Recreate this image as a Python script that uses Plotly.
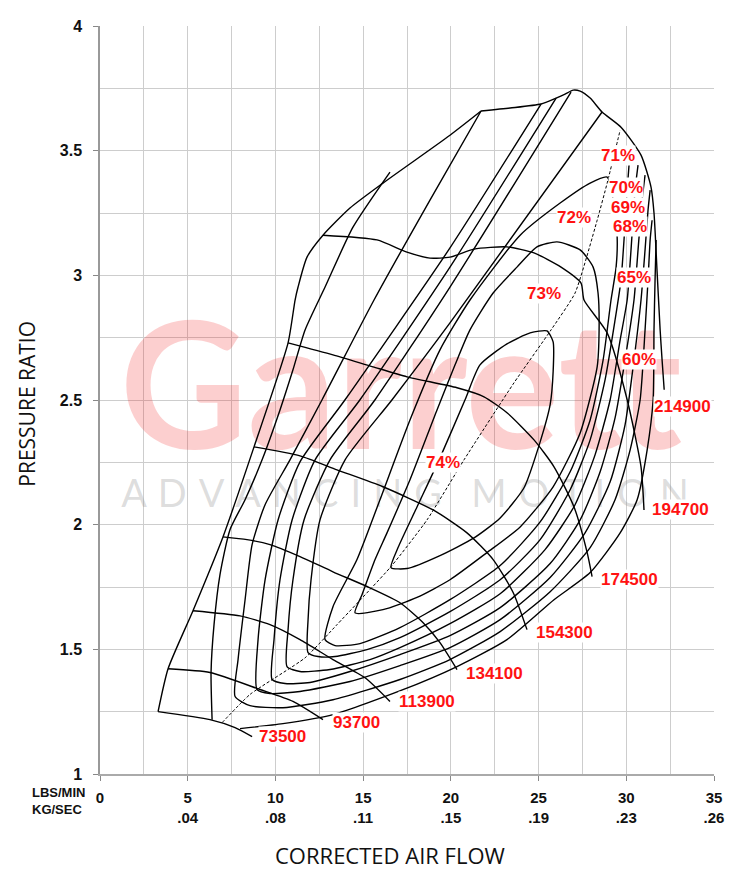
import plotly.graph_objects as go

# ---------------- data (flow in lbs/min, pressure ratio) ----------------
surge_flow = [3.31, 3.88, 5.30, 7.01, 8.78, 10.72, 11.12, 11.29, 11.80, 12.71, 14.25, 16.13, 19.95, 21.72]
surge_pr = [1.250, 1.422, 1.655, 1.951, 2.312, 2.729, 2.901, 2.953, 3.073, 3.161, 3.270, 3.370, 3.562, 3.659]

top_flow = [21.72, 23.38, 25.14, 26.00, 26.51, 26.97, 27.37, 27.94, 28.62, 29.70, 30.84, 31.41, 31.58, 31.76, 31.93, 32.04, 32.16]
top_pr = [3.659, 3.671, 3.687, 3.711, 3.727, 3.743, 3.739, 3.711, 3.655, 3.594, 3.482, 3.354, 3.250, 3.009, 2.781, 2.661, 2.541]

sp73500_flow = [3.31, 6.27, 7.70, 8.67]
sp73500_pr = [1.250, 1.218, 1.186, 1.150]
sp93700_flow = [3.88, 6.27, 9.12, 11.00, 12.71]
sp93700_pr = [1.422, 1.407, 1.339, 1.291, 1.218]
sp113900_flow = [5.30, 7.98, 9.69, 11.40, 13.28, 15.11, 16.53]
sp113900_pr = [1.655, 1.634, 1.599, 1.539, 1.459, 1.386, 1.291]
sp134100_flow = [7.01, 8.38, 9.69, 11.40, 13.28, 15.22, 17.10, 18.42, 19.38, 20.35]
sp134100_pr = [1.951, 1.940, 1.920, 1.872, 1.811, 1.752, 1.687, 1.607, 1.527, 1.419]
sp154300_flow = [8.78, 11.40, 13.51, 16.13, 18.99, 20.92, 22.41, 23.55, 24.34]
sp154300_pr = [2.312, 2.276, 2.220, 2.152, 2.059, 1.967, 1.860, 1.728, 1.579]
sp174500_flow = [10.72, 13.28, 15.56, 17.50, 20.35, 21.89, 23.20, 24.74, 25.88, 27.02, 27.77, 28.05]
sp174500_pr = [2.729, 2.681, 2.633, 2.593, 2.549, 2.513, 2.449, 2.340, 2.232, 2.071, 1.888, 1.792]
sp194700_flow = [12.71, 15.79, 17.50, 18.81, 19.95, 21.32, 23.20, 24.74, 26.28, 27.42, 27.59, 28.91, 30.05, 30.84, 31.01]
sp194700_pr = [3.161, 3.142, 3.093, 3.069, 3.073, 3.105, 3.114, 3.090, 3.033, 2.969, 2.901, 2.769, 2.501, 2.232, 2.059]

peak_flow = [6.96, 8.55, 11.69, 13.51, 16.59, 18.64, 20.75, 23.60, 25.71, 27.08, 28.34, 28.91, 29.65]
peak_pr = [1.206, 1.319, 1.466, 1.599, 1.832, 2.019, 2.260, 2.569, 2.781, 2.929, 3.221, 3.370, 3.582]

eff74_flow = [16.59, 16.99, 18.07, 19.38, 20.81, 21.66, 23.20, 24.52, 25.48, 25.83, 25.83, 25.66, 25.09, 24.17, 22.81, 21.32, 19.38, 17.50, 16.59]
eff74_pr = [1.828, 1.908, 2.071, 2.268, 2.501, 2.641, 2.725, 2.769, 2.777, 2.733, 2.613, 2.481, 2.332, 2.148, 2.027, 1.947, 1.876, 1.824, 1.828]
eff73_flow = [14.54, 14.94, 15.68, 16.36, 17.67, 19.21, 20.24, 21.09, 22.41, 23.77, 24.91, 26.05, 27.37, 28.11, 28.39, 28.45, 28.34, 27.37, 25.83, 23.95, 22.06, 19.95, 18.07, 16.13, 14.54]
eff73_pr = [1.646, 1.720, 1.860, 1.967, 2.180, 2.460, 2.641, 2.781, 2.929, 3.033, 3.114, 3.134, 3.102, 3.033, 2.929, 2.781, 2.633, 2.368, 2.152, 1.991, 1.888, 1.779, 1.708, 1.659, 1.646]
eff72_flow = [28.91, 27.94, 26.23, 23.95, 21.09, 19.38, 17.67, 15.96, 14.65, 13.28, 12.83, 13.40, 14.82, 17.10, 19.95, 22.81, 25.09, 26.80, 27.94, 28.68, 29.13, 29.42, 29.48, 29.25, 28.91]
eff72_pr = [3.394, 3.370, 3.290, 3.161, 2.901, 2.701, 2.420, 2.100, 1.860, 1.671, 1.539, 1.515, 1.523, 1.587, 1.699, 1.836, 2.011, 2.212, 2.420, 2.661, 2.901, 3.033, 3.153, 3.302, 3.394]
eff71_flow = [28.62, 19.95, 16.65, 13.97, 12.54, 12.03, 11.86, 11.86, 12.43, 13.40, 15.22, 17.10, 19.95, 22.81, 25.09, 26.80, 27.94, 28.79, 29.36, 29.70, 29.87, 30.05, 30.22]
eff71_pr = [3.655, 2.809, 2.501, 2.260, 2.019, 1.779, 1.619, 1.487, 1.471, 1.471, 1.499, 1.547, 1.651, 1.779, 1.940, 2.140, 2.340, 2.581, 2.821, 2.981, 3.142, 3.342, 3.502]
eff70_flow = [26.85, 19.95, 15.68, 13.11, 11.63, 11.00, 10.72, 10.66, 11.40, 13.11, 15.39, 17.10, 19.95, 22.81, 25.37, 27.08, 28.22, 29.08, 29.65, 30.05, 30.27, 30.50, 30.67]
eff70_pr = [3.735, 2.953, 2.501, 2.260, 2.019, 1.779, 1.579, 1.431, 1.411, 1.419, 1.459, 1.507, 1.603, 1.723, 1.900, 2.080, 2.280, 2.501, 2.741, 2.901, 3.102, 3.342, 3.442]
eff69_flow = [26.00, 19.95, 14.82, 12.26, 10.95, 10.26, 9.92, 9.81, 10.55, 11.97, 14.25, 17.10, 19.95, 22.81, 25.66, 27.37, 28.51, 29.36, 29.93, 30.44, 30.67, 30.90, 31.07]
eff69_pr = [3.711, 3.033, 2.501, 2.260, 2.019, 1.779, 1.539, 1.379, 1.363, 1.367, 1.411, 1.479, 1.555, 1.667, 1.844, 2.019, 2.212, 2.428, 2.661, 2.901, 3.102, 3.302, 3.402]
eff68_flow = [25.14, 19.95, 13.97, 11.40, 10.15, 9.41, 9.01, 8.95, 9.69, 11.40, 14.25, 17.10, 19.95, 22.81, 25.66, 27.65, 29.08, 29.93, 30.44, 30.84, 31.07, 31.24, 31.36]
eff68_pr = [3.687, 3.110, 2.501, 2.252, 2.019, 1.779, 1.539, 1.339, 1.323, 1.331, 1.371, 1.435, 1.507, 1.619, 1.788, 1.967, 2.172, 2.400, 2.661, 2.901, 3.102, 3.262, 3.342]
eff65_flow = [21.72, 18.81, 15.62, 12.66, 10.83, 9.41, 8.67, 8.27, 7.87, 7.70, 8.55, 10.43, 13.28, 17.10, 19.95, 22.81, 25.66, 27.94, 29.36, 30.22, 30.79, 31.07, 31.24, 31.36, 31.47]
eff65_pr = [3.659, 3.302, 2.901, 2.501, 2.260, 2.080, 1.920, 1.699, 1.459, 1.311, 1.274, 1.266, 1.298, 1.379, 1.459, 1.571, 1.731, 1.908, 2.100, 2.300, 2.501, 2.781, 2.981, 3.142, 3.221]
eff60a_flow = [16.53, 14.42, 12.83, 11.69, 11.00, 10.26, 9.24, 8.27, 7.41, 6.84, 6.50, 6.33, 6.39]
eff60a_pr = [3.414, 3.193, 2.953, 2.781, 2.621, 2.460, 2.260, 2.100, 1.980, 1.800, 1.599, 1.407, 1.218]
eff60b_flow = [7.98, 10.43, 13.28, 17.16, 20.35, 23.20, 25.88, 27.94, 29.65, 30.62, 31.19, 31.53, 31.58, 31.64, 31.70]
eff60b_pr = [1.182, 1.202, 1.238, 1.335, 1.431, 1.539, 1.699, 1.808, 1.967, 2.100, 2.300, 2.501, 2.781, 2.981, 3.142]

speed_labels = ["73500", "93700", "113900", "134100", "154300", "174500", "194700", "214900"]
speed_label_flow = [10.43, 14.60, 18.64, 22.46, 26.45, 30.16, 33.07, 33.18]
speed_label_pr = [1.150, 1.206, 1.291, 1.403, 1.567, 1.779, 2.059, 2.472]

eff_labels = ["74%", "73%", "72%", "71%", "70%", "69%", "68%", "65%", "60%"]
eff_label_flow = [19.56, 25.31, 27.02, 29.53, 29.99, 30.10, 30.22, 30.44, 30.73]
eff_label_pr = [2.250, 2.929, 3.230, 3.482, 3.354, 3.274, 3.197, 2.993, 2.661]

x_tick_vals = [0, 5, 10, 15, 20, 25, 30, 35]
x_tick_kg = ["", ".04", ".08", ".11", ".15", ".19", ".23", ".26"]
y_tick_vals = [1, 1.5, 2, 2.5, 3, 3.5, 4]

# ---------------- figure ----------------
fig = go.Figure()

# watermark (drawn first so the map lines sit on top)
fig.add_trace(go.Scatter(x=[17.15], y=[2.48], mode="text", text=["Garrett"],
                         textposition="middle center", cliponaxis=False, hoverinfo="skip",
                         textfont=dict(family="Lato", size=176, color="rgba(240,30,30,0.21)", weight="bold")))
sp = " \u200a"
fig.add_trace(go.Scatter(x=[17.39], y=[2.11], mode="text",
                         text=[sp.join("ADVANCING") + "   " + sp.join("MOTION")],
                         textposition="middle center", cliponaxis=False, hoverinfo="skip",
                         textfont=dict(family="Lato", size=38, color="rgba(150,150,150,0.32)")))

line_style = dict(color="black", width=1.4, shape="spline", smoothing=0.6)

curves = [
    (surge_flow, surge_pr), (top_flow, top_pr),
    (sp73500_flow, sp73500_pr), (sp93700_flow, sp93700_pr), (sp113900_flow, sp113900_pr),
    (sp134100_flow, sp134100_pr), (sp154300_flow, sp154300_pr), (sp174500_flow, sp174500_pr),
    (sp194700_flow, sp194700_pr),
    (eff74_flow, eff74_pr), (eff73_flow, eff73_pr), (eff72_flow, eff72_pr),
    (eff71_flow, eff71_pr), (eff70_flow, eff70_pr), (eff69_flow, eff69_pr),
    (eff68_flow, eff68_pr), (eff65_flow, eff65_pr),
    (eff60a_flow, eff60a_pr), (eff60b_flow, eff60b_pr),
]
for fx, fy in curves:
    fig.add_trace(go.Scatter(x=fx, y=fy, mode="lines", line=line_style, hoverinfo="skip"))

fig.add_trace(go.Scatter(x=peak_flow, y=peak_pr, mode="lines", hoverinfo="skip",
                         line=dict(color="black", width=1, dash="3px,2px", shape="spline", smoothing=0.5)))

red_font = dict(family="Liberation Sans, Arial", size=17, color="#ff1212", weight="bold")
for t, fx, fy in zip(speed_labels, speed_label_flow, speed_label_pr):
    fig.add_annotation(x=fx, y=fy, text=t, showarrow=False, font=red_font,
                       xanchor="center", yanchor="middle", bgcolor="white", borderpad=0)
for t, fx, fy in zip(eff_labels, eff_label_flow, eff_label_pr):
    fig.add_annotation(x=fx, y=fy, text=t, showarrow=False, font=red_font,
                       xanchor="center", yanchor="middle", bgcolor="white", borderpad=0)

# unit labels and axis titles
fig.add_annotation(xref="paper", yref="paper", x=-0.114, y=-0.036, text="LBS/MIN<br>KG/SEC",
                   showarrow=False, xanchor="left", yanchor="middle", align="left",
                   font=dict(family="Liberation Sans, Arial", size=13, color="#111", weight="bold"))
fig.add_annotation(xref="paper", yref="paper", x=0.472, y=-0.108, text="CORRECTED AIR FLOW",
                   showarrow=False, xanchor="center", yanchor="middle",
                   font=dict(family="Open Sans", size=22, color="#111"))
fig.add_annotation(xref="paper", yref="paper", x=-0.119, y=0.495, text="PRESSURE RATIO",
                   showarrow=False, xanchor="center", yanchor="middle", textangle=-90,
                   font=dict(family="Open Sans", size=21, color="#111"))

grid_c = "#cdcdcd"
fig.update_layout(
    width=748, height=888, showlegend=False,
    margin=dict(l=100, r=34, t=26, b=114),
    plot_bgcolor="white", paper_bgcolor="white",
    xaxis=dict(range=[0, 35], tickvals=x_tick_vals,
               ticktext=[f"{v}<br>{k}" if k else f"{v}" for v, k in zip(x_tick_vals, x_tick_kg)],
               ticks="outside", ticklen=5, tickcolor="#888", showgrid=True, gridcolor=grid_c, gridwidth=1,
               minor=dict(dtick=2.5, tick0=0, showgrid=True, gridcolor=grid_c, gridwidth=1),
               showline=True, linecolor="#aaa", linewidth=2, mirror=False, zeroline=False,
               tickfont=dict(family="Liberation Sans, Arial", size=15, color="#111", weight="bold"),
               ticklabelstandoff=4),
    yaxis=dict(range=[1, 4], tickvals=y_tick_vals, ticktext=["1", "1.5", "2", "2.5", "3", "3.5", "4"],
               ticks="outside", ticklen=5, tickcolor="#888", showgrid=True, gridcolor=grid_c, gridwidth=1,
               minor=dict(dtick=0.25, tick0=1, showgrid=True, gridcolor=grid_c, gridwidth=1),
               showline=True, linecolor="#999", linewidth=1.5, zeroline=False,
               tickfont=dict(family="Liberation Sans, Arial", size=16, color="#111", weight="bold"),
               ticklabelstandoff=8),
)

fig.write_html("out.html", config={"displayModeBar": False},
               post_script="document.body.style.margin='0px';")
